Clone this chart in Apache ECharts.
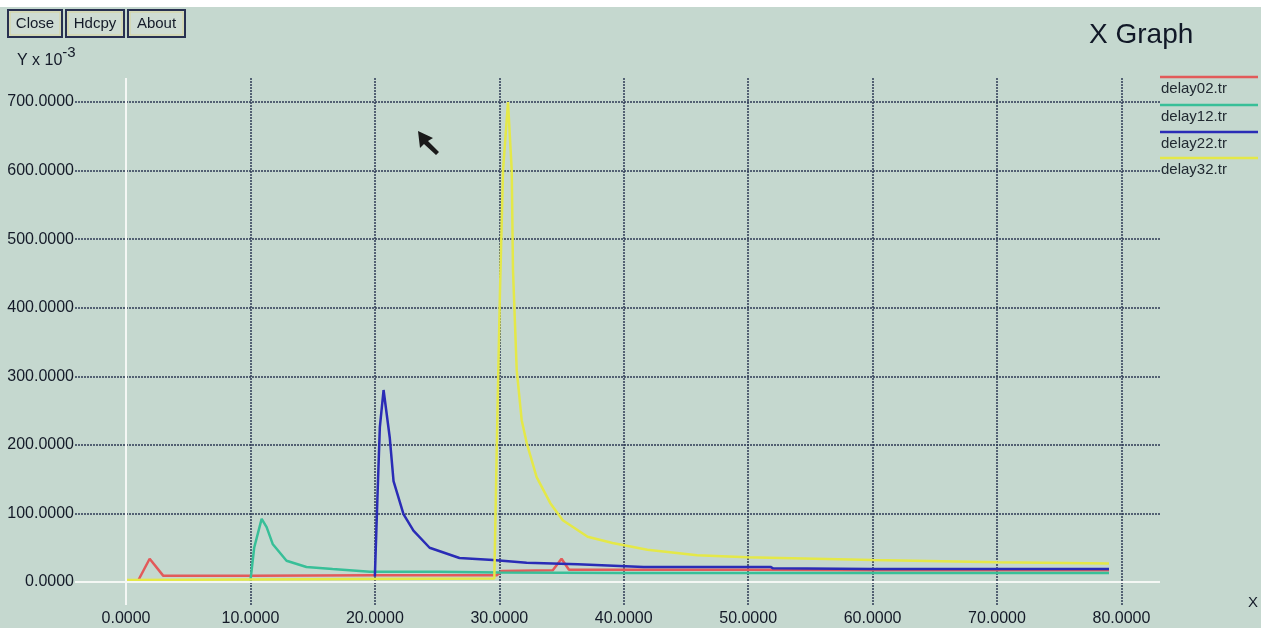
<!DOCTYPE html>
<html>
<head>
<meta charset="utf-8">
<title>X Graph</title>
<script src="https://cdn.jsdelivr.net/npm/echarts@6/dist/echarts.min.js"></script>
<style>
  html, body { margin: 0; padding: 0; background: #fff; }
  #main { width: 1268px; height: 628px; }
</style>
</head>
<body>
<div id="main"></div>
<script>
// tick labels
var xTicks = [0, 10, 20, 30, 40, 50, 60, 70, 80];
var yTicks = [0, 100, 200, 300, 400, 500, 600, 700];

// series names / colours (legend order)
var names = ['delay02.tr', 'delay12.tr', 'delay22.tr', 'delay32.tr'];
var colors = ['#e25a5a', '#38bf98', '#2a2cb6', '#e4e848'];

// delay02.tr
var x02 = [1.0, 1.9, 3.0, 10, 20, 29.8, 30.2, 34.3, 35.0, 35.6, 40, 50, 60, 70, 79];
var y02 = [3, 34, 9, 9, 10, 10, 16, 17, 34, 18, 18, 18, 17, 17, 17];
// delay12.tr
var x12 = [10.0, 10.3, 10.9, 11.3, 11.8, 12.9, 14.5, 16.6, 19.6, 25, 30, 40, 50, 60, 70, 79];
var y12 = [2, 50, 92, 80, 55, 31, 22, 19, 15, 15, 14, 13, 13, 13, 13, 13];
// delay22.tr
var x22 = [20.0, 20.2, 20.4, 20.7, 21.2, 21.5, 22.3, 23.1, 24.4, 26.8, 29.5, 32.2, 36.3, 41.6, 51.8, 52.0, 60, 70, 79];
var y22 = [8, 120, 226, 280, 210, 147, 99, 75, 50, 35, 32, 28, 26, 22, 22, 20, 19, 19, 19];
// delay32.tr
var x32 = [0, 29.6, 29.85, 30.05, 30.3, 30.7, 31.0, 31.1, 31.4, 31.8, 32.2, 33.0, 34.1, 35.1, 37.1, 39.1, 41.9, 45.9, 49.9, 52.6, 60, 70, 79];
var y32 = [3, 5, 246, 420, 600, 700, 600, 455, 309, 236, 203, 153, 115, 90, 66, 57, 47, 39, 36, 35, 32, 29, 27];

var FONT = '"Liberation Sans", Arial, sans-serif';
var TXT = '#141a28';
var GRID = '#2e3a55';

function pairs(xs, ys) {
  return xs.map(function (x, i) { return [x, ys[i]]; });
}

var chart = echarts.init(document.getElementById('main'));

var zeroLine = { color: '#f4f7f4', type: 'solid', width: 2 };
var seriesData = [pairs(x02, y02), pairs(x12, y12), pairs(x22, y22), pairs(x32, y32)];
var series = seriesData.map(function (d, i) {
  var s = {
    name: names[i],
    type: 'line',
    data: d,
    showSymbol: false,
    symbol: 'none',
    lineStyle: { color: colors[i], width: 2.5 },
    itemStyle: { color: colors[i] }
  };
  if (i === 0) {
    // white zero axes
    s.markLine = {
      silent: true,
      symbol: 'none',
      label: { show: false },
      lineStyle: zeroLine,
      data: [{ xAxis: 0, lineStyle: zeroLine }, { yAxis: 0, lineStyle: zeroLine }]
    };
  }
  return s;
});

// buttons + legend + misc text, xgraph style
var graphics = [];
var buttons = [['Close', 8, 54], ['Hdcpy', 66, 58], ['About', 128, 57]];
buttons.forEach(function (b) {
  graphics.push({
    type: 'rect',
    shape: { x: b[1], y: 10, width: b[2], height: 27 },
    style: { fill: '#cfdcd3', stroke: '#283050', lineWidth: 2 }
  });
  graphics.push({
    type: 'rect',
    shape: { x: b[1] + 2, y: 12, width: b[2] - 4, height: 23 },
    style: { fill: 'none', stroke: '#d8d49a', lineWidth: 1 }
  });
  graphics.push({
    type: 'text',
    x: b[1] + b[2] / 2, y: 24,
    style: { text: b[0], fill: TXT, font: '15px ' + FONT, align: 'center', verticalAlign: 'middle' }
  });
});

var legendY = [77, 105, 132, 158];
names.forEach(function (n, i) {
  graphics.push({
    type: 'line',
    shape: { x1: 1160, y1: legendY[i], x2: 1258, y2: legendY[i] },
    style: { stroke: colors[i], lineWidth: 2.5 }
  });
  graphics.push({
    type: 'text',
    x: 1161, y: legendY[i] + 12,
    style: { text: n, fill: '#222a32', font: '15px ' + FONT, verticalAlign: 'middle' }
  });
});

graphics.push({
  type: 'text', x: 1089, y: 35,
  style: { text: 'X Graph', fill: '#111827', font: '28px ' + FONT, verticalAlign: 'middle' }
});
graphics.push({
  type: 'text', x: 17, y: 57,
  style: {
    text: '{a|Y x 10}{b|-3}',
    verticalAlign: 'middle',
    rich: {
      a: { fill: TXT, font: '16px ' + FONT, verticalAlign: 'bottom' },
      b: { fill: TXT, font: '15px ' + FONT, verticalAlign: 'top', padding: [0, 0, 8, 0] }
    }
  }
});
graphics.push({
  type: 'text', x: 1248, y: 603,
  style: { text: 'X', fill: TXT, font: '15px ' + FONT, verticalAlign: 'middle' }
});
// mouse pointer in the screenshot
graphics.push({
  type: 'polygon',
  shape: { points: [[418, 131], [420, 148], [424, 144], [436, 155], [439, 152], [428, 141], [433, 138]] },
  style: { fill: '#1a1a1a' }
});
// white scan borders
graphics.push({ type: 'rect', shape: { x: 0, y: 0, width: 1268, height: 7 }, style: { fill: '#fff' } });
graphics.push({ type: 'rect', shape: { x: 1261, y: 0, width: 7, height: 628 }, style: { fill: '#fff' } });

var option = {
  backgroundColor: '#c5d8cf',
  animation: false,
  grid: { left: 75, right: 108, top: 78, bottom: 23, containLabel: false },
  xAxis: {
    type: 'value',
    min: -4.1,
    max: 83.1,
    axisLine: { show: false },
    axisTick: { show: false, customValues: xTicks },
    axisLabel: {
      customValues: xTicks,
      margin: 6,
      color: TXT,
      fontSize: 16,
      fontFamily: FONT,
      formatter: function (v) { return v.toFixed(4); }
    },
    splitLine: { show: true, lineStyle: { color: GRID, width: 1.5, type: [2, 1] } }
  },
  yAxis: {
    type: 'value',
    min: -33.5,
    max: 735,
    axisLine: { show: false },
    axisTick: { show: false, customValues: yTicks },
    axisLabel: {
      customValues: yTicks,
      margin: 1,
      color: TXT,
      fontSize: 16,
      fontFamily: FONT,
      formatter: function (v) { return v.toFixed(4); }
    },
    splitLine: { show: true, lineStyle: { color: GRID, width: 1.5, type: [2, 1] } }
  },
  series: series,
  graphic: graphics
};

chart.setOption(option);
</script>
</body>
</html>
